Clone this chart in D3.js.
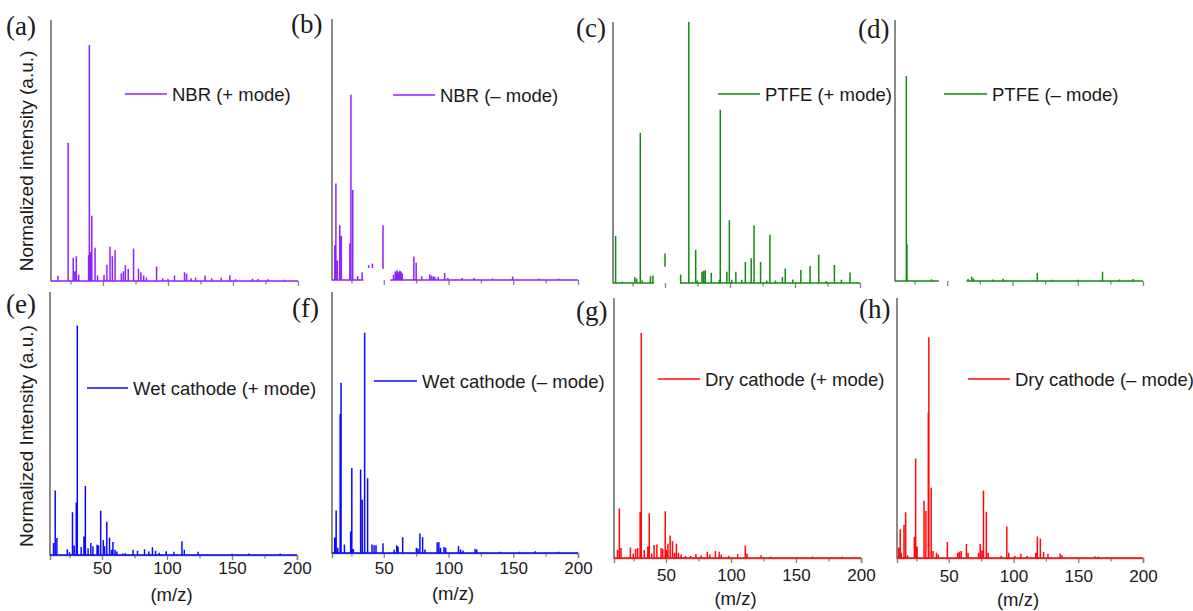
<!DOCTYPE html>
<meta charset="utf-8">
<script src="https://d3js.org/d3.v7.min.js"></script>
<style>
  body { margin: 0; background: #fff; }
  svg { display: block; }
</style>
<svg id="chart" width="1193" height="611"></svg>
<script>

// x axis, shared by all eight spectra
var xDomain = [10, 200]
var xTicks = [25, 50, 75, 100, 125, 150, 175, 200]
var xTickLabels = [50, 100, 150, 200]

var panelIds = ["(a)", "(b)", "(c)", "(d)", "(e)", "(f)", "(g)", "(h)"]
var legendLabels = ["NBR (+ mode)", "NBR (\u2013 mode)", "PTFE (+ mode)", "PTFE (\u2013 mode)",
  "Wet cathode (+ mode)", "Wet cathode (\u2013 mode)", "Dry cathode (+ mode)", "Dry cathode (\u2013 mode)"]
var yLabels = ["Normalized intensity (a.u.)", "Normalized Intensity (a.u.)"]
var xLabel = "(m/z)"

// peaks: [m/z, normalized intensity]
var nbrPos = [[15.4,0.02],[23.2,0.53],[27.1,0.089],[28.3,0.037],[29.5,0.095],[31.3,0.024],[38.9,0.1],
  [39.5,0.904],[40.3,0.11],[41.4,0.25],[43.9,0.127],[45.8,0.021],[50.8,0.024],[53,0.062],[55.4,0.131],
  [57.2,0.095],[59.3,0.118],[64.1,0.03],[65.7,0.037],[67.2,0.06],[69.4,0.046],[73.5,0.125],[77.3,0.047],
  [79.2,0.034],[81.3,0.021],[83.4,0.013],[91.2,0.056],[95.9,0.011],[100,0.008],[105,0.021],[112.7,0.034],
  [114.3,0.028],[117.8,0.011],[121.2,0.013],[128.5,0.021],[133.6,0.011],[141,0.012],[147.6,0.022],
  [152,0.007],[165,0.009],[169.3,0.008],[177,0.007],[190,0.005]]
var nbrNeg = [[12.1,0.133],[13,0.37],[14.2,0.075],[16,0.21],[17.2,0.17],[23.8,0.14],[24.6,0.71],[26,0.345],
  [29.8,0.014],[33.3,0.03],[57.5,0.02],[58.9,0.034],[59.6,0.03],[60.3,0.037],[61,0.028],[61.6,0.03],
  [62.2,0.035],[62.9,0.034],[63.5,0.03],[64.2,0.025],[73.2,0.09],[75,0.067],[79.3,0.014],[85.4,0.021],
  [86.8,0.017],[88.2,0.014],[89.5,0.012],[92,0.012],[97,0.027],[99.5,0.008],[110.5,0.008],[119.8,0.008],
  [134,0.006],[149.5,0.013],[170,0.005],[185,0.005]]
var ptfePos = [[12,0.18],[17,0.005],[26.8,0.023],[28.2,0.016],[31,0.576],[32.4,0.01],[38.8,0.027],
  [40.7,0.029],[62,0.033],[68.3,1.0],[73.6,0.127],[74.9,0.01],[78.4,0.043],[79.7,0.047],[81,0.049],
  [85.6,0.039],[91.9,0.012],[92.5,0.664],[97.6,0.043],[99.5,0.24],[101.4,0.012],[104.5,0.043],[109,0.012],
  [111.8,0.08],[116.3,0.095],[118.5,0.22],[123.5,0.08],[128.3,0.01],[130.7,0.185],[135,0.01],[140.3,0.023],
  [142.5,0.056],[148.3,0.013],[154.5,0.05],[161.6,0.065],[168.3,0.108],[174,0.008],[180.3,0.069],
  [185.7,0.012],[192.3,0.04]]
var ptfeNeg = [[18.7,0.785],[19.2,0.14],[38,0.007],[66,0.008],[68.8,0.016],[70.2,0.01],[85,0.006],
  [92.8,0.009],[119,0.031],[130,0.005],[150,0.005],[169,0.035],[182,0.006],[192.5,0.008]]
var wetPos = [[12.7,0.046],[14,0.245],[15.3,0.065],[23.3,0.022],[25,0.01],[27.3,0.163],[28.6,0.036],
  [30.2,0.2],[31,0.873],[34,0.03],[36.1,0.07],[37.2,0.262],[39.3,0.026],[41.4,0.046],[43,0.033],
  [46.2,0.039],[47.3,0.036],[49,0.168],[51,0.057],[52,0.033],[53.7,0.126],[55.8,0.066],[57.4,0.02],
  [58.4,0.049],[60,0.02],[61.4,0.013],[66,0.006],[68,0.007],[73.9,0.02],[77.3,0.016],[82.7,0.022],
  [86,0.013],[88.8,0.029],[91.2,0.016],[94,0.009],[99.4,0.014],[105.3,0.012],[111.5,0.052],[113.3,0.02],
  [123.9,0.012],[150,0.005],[163,0.006],[187,0.006]]
var wetNeg = [[12.1,0.059],[13.2,0.163],[14.5,0.02],[16.3,0.533],[17,0.652],[19.6,0.033],[24.4,0.082],
  [25.3,0.326],[26.5,0.015],[32.1,0.32],[33.4,0.204],[35.2,0.844],[37.5,0.286],[40.9,0.033],[42.5,0.03],
  [44,0.03],[49.4,0.037],[58,0.013],[60,0.03],[61,0.024],[64.6,0.06],[75.2,0.02],[76.5,0.016],[77.9,0.075],
  [80,0.06],[81.8,0.013],[91.2,0.04],[92.5,0.042],[93.8,0.02],[96.5,0.023],[97.8,0.02],[107.7,0.027],
  [109.3,0.013],[111.2,0.01],[120.5,0.016],[121.8,0.013],[140,0.005],[155,0.005],[167,0.007],[185,0.005]]
var dryPos = [[12.7,0.031],[14.1,0.19],[15.4,0.038],[22.6,0.04],[24.8,0.017],[26.6,0.035],[28.2,0.038],
  [30.1,0.178],[31,0.865],[33.3,0.031],[36,0.044],[37.1,0.172],[39,0.017],[40.8,0.05],[43,0.052],
  [46.2,0.038],[47.5,0.036],[49.4,0.18],[50.5,0.031],[51.5,0.055],[53.2,0.087],[55,0.064],[56.6,0.02],
  [58,0.055],[59.6,0.02],[61.7,0.013],[65,0.008],[69,0.008],[73,0.015],[77,0.011],[81.8,0.024],
  [83.7,0.013],[88,0.027],[90.9,0.024],[92.5,0.013],[98.3,0.008],[105.1,0.015],[111,0.048],[112.3,0.017],
  [123.1,0.011],[130.6,0.005],[162.7,0.006],[185.5,0.005]]
var dryNeg = [[11.3,0.04],[12.5,0.11],[13.4,0.02],[15.4,0.128],[16.7,0.176],[18.2,0.011],[23.4,0.082],
  [24.4,0.383],[25.5,0.044],[30.9,0.22],[32.3,0.181],[34.2,0.56],[34.6,0.849],[36.4,0.27],[37.8,0.027],
  [40.5,0.02],[41.9,0.013],[48.9,0.062],[56.9,0.02],[58.2,0.024],[59.6,0.027],[63.6,0.054],[64.9,0.02],
  [73,0.02],[74.3,0.054],[75.6,0.029],[76.8,0.26],[79,0.178],[80.4,0.02],[90.6,0.009],[94.8,0.121],
  [96.3,0.02],[101,0.008],[105.7,0.016],[110.6,0.008],[117.2,0.02],[118.4,0.083],[120.7,0.075],
  [123.2,0.023],[126.6,0.016],[136,0.017],[137.4,0.011],[162.8,0.007],[165.5,0.006]]

// m/z ranges where the recorded baseline exists (top row has gaps)
var fullRange = [[10, 200]]
var nbrNegRanges = [[10, 34.3], [55, 200]]
var ptfePosRanges = [[10, 41.5], [61.5, 200]]
var ptfeNegRanges = [[10, 43.6], [64.7, 200]]

// fragments inside the gaps: [m/z, from, to]
var nbrNegFloats = [[38.3, 0.046, 0.057], [41.2, 0.046, 0.063], [49.4, 0.043, 0.21]]
var ptfePosFloats = [[50, 0.062, 0.113]]

var spectra = [nbrPos, nbrNeg, ptfePos, ptfeNeg, wetPos, wetNeg, dryPos, dryNeg]
var ranges = [fullRange, nbrNegRanges, ptfePosRanges, ptfeNegRanges, fullRange, fullRange, fullRange, fullRange]
var floats = [[], nbrNegFloats, ptfePosFloats, [], [], [], [], []]
var colors = ["#9020ff", "#9020ff", "#138a13", "#138a13", "#0a0aff", "#0a0aff", "#ff0a0a", "#ff0a0a"]

// layout of each panel (pixel positions)
var layout = [
  {x0: 51,  x1: 298,  yTop: 20,  yBot: 281, lab: [6, 35],    leg: [125, 167, 94],  tickY: 0,   mzY: 0},
  {x0: 332, x1: 578,  yTop: 19,  yBot: 280, lab: [291, 33],  leg: [393, 435, 95],  tickY: 0,   mzY: 0},
  {x0: 613, x1: 860,  yTop: 22,  yBot: 283, lab: [576, 37],  leg: [718, 760, 94],  tickY: 0,   mzY: 0},
  {x0: 895, x1: 1143, yTop: 20,  yBot: 281, lab: [858, 38],  leg: [944, 987, 94],  tickY: 0,   mzY: 0},
  {x0: 50,  x1: 297,  yTop: 292, yBot: 555, lab: [6, 313],   leg: [87, 128, 388],  tickY: 574, mzY: 601},
  {x0: 332, x1: 578,  yTop: 292, yBot: 553, lab: [292, 317], leg: [374, 417, 381], tickY: 574, mzY: 600},
  {x0: 614, x1: 861,  yTop: 298, yBot: 558, lab: [576, 320], leg: [658, 700, 379], tickY: 581, mzY: 605},
  {x0: 897, x1: 1143, yTop: 298, yBot: 558, lab: [859, 318], leg: [968, 1010, 379], tickY: 582, mzY: 606}
]

var sans = "'Liberation Sans', Arial, sans-serif"
var serif = "'Liberation Serif', 'Times New Roman', serif"
var axisGray = "#858585"
var textColor = "#1a1a1a"

var svg = d3.select("#chart")
svg.append("rect").attr("width", 1193).attr("height", 611).attr("fill", "#fff")

spectra.forEach(function(peaks, i) {
  var L = layout[i]
  var bottomRow = i >= 4
  var g = svg.append("g")

  var x = d3.scaleLinear().domain(xDomain).range([L.x0, L.x1])
  var y = d3.scaleLinear().domain([0, 1]).range([L.yBot, L.yTop])

  // x axis
  var axis = d3.axisBottom(x)
    .tickValues(xTicks)
    .tickSizeOuter(0)
    .tickSize(5)
    .tickFormat(function(d) { return bottomRow && xTickLabels.indexOf(d) >= 0 ? d : "" })
  var ax = g.append("g")
    .attr("transform", "translate(0," + L.yBot + ")")
    .call(axis)
  ax.select(".domain").attr("stroke", axisGray).attr("stroke-width", 1.5)
  if (!bottomRow) ax.select(".domain").remove()
  ax.selectAll(".tick line")
    .attr("stroke", axisGray)
    .attr("stroke-width", 1.3)
    .attr("y2", function(d) { return xTickLabels.indexOf(d) >= 0 ? 5 : 3.5 })
  ax.selectAll(".tick text")
    .attr("y", L.tickY - L.yBot)
    .attr("dy", 0)
    .attr("fill", textColor)
    .style("font-family", sans)
    .style("font-size", "17px")

  // y axis line
  g.append("line")
    .attr("x1", L.x0).attr("x2", L.x0)
    .attr("y1", L.yTop).attr("y2", L.yBot + 0.5)
    .attr("stroke", axisGray)
    .attr("stroke-width", 1.9)

  // stick spectrum with baseline, one path per recorded range
  var line = d3.line()
    .x(function(d) { return x(d[0]) })
    .y(function(d) { return y(d[1]) })
  ranges[i].forEach(function(r) {
    var pts = [[r[0], 0]]
    peaks.filter(function(p) { return p[0] >= r[0] && p[0] <= r[1] })
      .sort(function(a, b) { return a[0] - b[0] })
      .forEach(function(p) {
        pts.push([p[0], 0], [p[0], p[1]], [p[0], 0])
      })
    pts.push([r[1], 0])
    g.append("path")
      .attr("d", line(pts))
      .attr("fill", "none")
      .attr("stroke", colors[i])
      .attr("stroke-width", 1.5)
      .attr("stroke-linejoin", "miter")
  })

  g.selectAll(".frag")
    .data(floats[i])
    .join("line")
    .attr("x1", function(d) { return x(d[0]) })
    .attr("x2", function(d) { return x(d[0]) })
    .attr("y1", function(d) { return y(d[1]) })
    .attr("y2", function(d) { return y(d[2]) })
    .attr("stroke", colors[i])
    .attr("stroke-width", 1.5)

  // panel letter
  g.append("text")
    .attr("x", L.lab[0]).attr("y", L.lab[1])
    .style("font-family", serif)
    .style("font-size", "27px")
    .attr("fill", textColor)
    .text(panelIds[i])

  // legend
  g.append("line")
    .attr("x1", L.leg[0]).attr("x2", L.leg[1])
    .attr("y1", L.leg[2]).attr("y2", L.leg[2])
    .attr("stroke", colors[i])
    .attr("stroke-width", 1.6)
  g.append("text")
    .attr("x", L.leg[1] + 5).attr("y", L.leg[2])
    .attr("dy", "0.36em")
    .style("font-family", sans)
    .style("font-size", "18.5px")
    .attr("fill", textColor)
    .text(legendLabels[i])

  if (bottomRow) {
    g.append("text")
      .attr("x", (L.x0 + L.x1) / 2 - 2).attr("y", L.mzY)
      .attr("text-anchor", "middle")
      .style("font-family", sans)
      .style("font-size", "18.5px")
      .attr("fill", textColor)
      .text(xLabel)
  }
})

// y axis titles
var yTitleCenters = [[33, 161], [33, 436]]
yLabels.forEach(function(t, i) {
  svg.append("text")
    .attr("transform", "translate(" + yTitleCenters[i][0] + "," + yTitleCenters[i][1] + ") rotate(-90)")
    .attr("text-anchor", "middle")
    .style("font-family", sans)
    .style("font-size", "19px")
    .attr("fill", textColor)
    .text(t)
})

</script>
